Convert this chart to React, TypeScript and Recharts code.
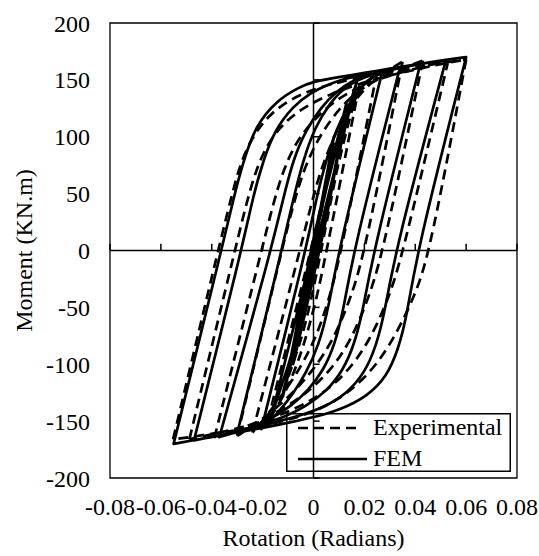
import React from "react";
import {
    LineChart,
    Line,
    XAxis,
    YAxis,
    Legend,
    ReferenceLine,
    ReferenceArea,
} from "recharts";

const FONT = '"Liberation Serif", "Times New Roman", serif';

// tick labels
const xTicks = [-0.08, -0.06, -0.04, -0.02, 0, 0.02, 0.04, 0.06, 0.08];
const yTicks = [-200, -150, -100, -50, 0, 50, 100, 150, 200];

// FEM cycles: [rotation, moment]
// each cycle = loading branch up to +peak, then unloading branch down to -peak
const femCycle1 = [[0, 0], [0.008, 100], [-0.0005, 0], [-0.008, -100]];
const femCycle2 = [
    [0.0025, 0], [0.007, 50], [0.01, 90], [0.013, 130],
    [-0.0015, 0], [-0.0055, -55], [-0.009, -95], [-0.012, -128],
];
const femCycle3 = [
    [0.002, 0], [0.006, 45], [0.0095, 85], [0.013, 118], [0.0155, 138], [0.017, 148],
    [0.0003, 0], [-0.004, -50], [-0.008, -88], [-0.012, -115], [-0.015, -135], [-0.017, -150],
];
const femCycle4 = [
    [-0.0003, 0], [0.004, 45], [0.008, 82], [0.012, 110], [0.016, 132], [0.0195, 146], [0.023, 153], [0.027, 157],
    [0.0098, 0], [0.006, -50], [0.002, -84], [-0.003, -108], [-0.008, -126], [-0.013, -140], [-0.017, -150], [-0.0205, -157],
];
const femCycle5 = [
    [-0.003, 0], [0.001, 45], [0.005, 80], [0.009, 107], [0.014, 129], [0.0185, 144], [0.0235, 154], [0.034, 161],
    [0.0157, 0], [0.012, -50], [0.0085, -82], [0.004, -105], [-0.002, -123], [-0.009, -137], [-0.016, -147], [-0.023, -155], [-0.03, -161],
];
const femCycle6 = [
    [-0.0125, 0], [-0.008, 45], [-0.004, 80], [0.0005, 108], [0.0065, 130], [0.0125, 144], [0.0195, 152.5], [0.03, 159], [0.042, 164],
    [0.0236, 0], [0.0197, -50], [0.0162, -82], [0.0115, -106], [0.005, -124], [-0.003, -137], [-0.011, -146], [-0.019, -152], [-0.028, -158], [-0.037, -164],
];
const femCycle7 = [
    [-0.0167, 0], [-0.012, 45], [-0.008, 80], [-0.003, 106], [0.003, 126], [0.009, 140], [0.015, 149], [0.0205, 153.5], [0.03, 159], [0.04, 163.5], [0.052, 167],
    [0.0321, 0], [0.028, -55], [0.0245, -85], [0.02, -108], [0.013, -126], [0.004, -138], [-0.005, -145], [-0.015, -151], [-0.025, -156.5], [-0.035, -161.5], [-0.047, -167],
];
const femCycle8 = [
    [-0.0283, 0], [-0.0235, 50], [-0.02, 77], [-0.0155, 105], [-0.008, 127], [-0.001, 139], [0.006, 146], [0.012, 151], [0.0195, 154.5], [0.03, 159.5], [0.04, 163.5], [0.05, 167], [0.06, 170],
    [0.0407, 0], [0.0367, -58], [0.0333, -87], [0.0288, -111], [0.021, -128.5], [0.0104, -140], [0.0013, -146], [-0.01, -151.5], [-0.02, -156], [-0.03, -160], [-0.04, -164], [-0.048, -167], [-0.055, -170],
    [-0.0362, 0], [-0.031, 50], [-0.0277, 77], [-0.023, 109], [-0.0145, 132], [-0.0053, 144], [0, 148.5], [0.01, 152.5], [0.02, 156], [0.03, 160], [0.04, 163.5], [0.05, 167], [0.06, 170],
];

// Experimental cycles
const expCycle1 = [[0, 0], [0.004, 48], [0.008, 95], [0.004, 45], [0, -2], [-0.004, -50], [-0.008, -95]];
const expCycle2 = [
    [0.002, 0], [0.006, 45], [0.01, 85], [0.0145, 131],
    [0.003, 0], [-0.001, -45], [-0.005, -80], [-0.009, -105], [-0.012, -125],
];
const expCycle3 = [
    [0.002, 0], [0.006, 40], [0.01, 78], [0.014, 115], [0.018, 145],
    [0.0052, 0], [0.001, -45], [-0.004, -85], [-0.009, -115], [-0.014, -137], [-0.018, -150],
];
const expCycle4 = [
    [-0.001, 0], [0.003, 40], [0.007, 75], [0.011, 104], [0.015, 127], [0.02, 145], [0.025, 157],
    [0.011, 0], [0.006, -45], [0, -82], [-0.007, -110], [-0.014, -132], [-0.019, -147], [-0.024, -160],
];
const expCycle5 = [
    [-0.0053, 0], [-0.001, 40], [0.003, 72], [0.008, 100], [0.013, 122], [0.019, 140], [0.026, 154], [0.035, 166],
    [0.0203, 0], [0.015, -40], [0.008, -78], [0, -105], [-0.008, -125], [-0.016, -141], [-0.023, -153], [-0.03, -163],
];
const expCycle6 = [
    [-0.0125, 0], [-0.008, 40], [-0.004, 70], [0.001, 95], [0.007, 116], [0.014, 134], [0.022, 147], [0.031, 157], [0.043, 167],
    [0.0275, 0], [0.022, -40], [0.015, -78], [0.007, -105], [-0.002, -124], [-0.011, -138], [-0.02, -149], [-0.029, -157], [-0.039, -165],
];
const expCycle7 = [
    [-0.0204, 0], [-0.016, 40], [-0.012, 70], [-0.007, 95], [0, 115], [0.008, 131], [0.017, 143], [0.027, 152], [0.04, 160], [0.053, 167],
    [0.0354, 0], [0.03, -40], [0.022, -80], [0.013, -108], [0.003, -127], [-0.007, -139], [-0.017, -148], [-0.027, -155], [-0.037, -160], [-0.0488, -166],
];
const expCycle8 = [
    [-0.0309, 0], [-0.026, 45], [-0.022, 75], [-0.017, 98], [-0.01, 116], [-0.002, 128], [0.007, 138], [0.017, 146], [0.028, 153], [0.04, 159], [0.05, 164], [0.06, 168],
    [0.0459, 0], [0.04, -40], [0.0294, -87], [0.02, -113], [0.01, -131], [0, -142], [-0.01, -149], [-0.02, -154], [-0.03, -158], [-0.04, -161], [-0.048, -164], [-0.0552, -166],
    [-0.0375, 0], [-0.032, 50], [-0.0285, 78], [-0.024, 100], [-0.018, 118], [-0.01, 132], [0, 142], [0.01, 148], [0.02, 153], [0.03, 157], [0.042, 162], [0.06, 168],
];

// split the path at every load reversal (peak) with a null gap, so each
// branch is drawn as its own smooth curve and the peaks stay sharp
type Pt = { x: number | null; y: number | null };
const toBranches = (cycles: number[][][]): Pt[] => {
    const pts = cycles.flat();
    const out: Pt[] = [];
    let dir = 0;
    pts.forEach(([x, y], i) => {
        if (i > 0) {
            const [px, py] = pts[i - 1];
            const d = Math.sign(y - py);
            if (dir !== 0 && d !== 0 && d !== dir) {
                out.push({ x: null, y: null }, { x: px, y: py });
            }
            if (d !== 0) dir = d;
        }
        out.push({ x, y });
    });
    return out;
};

const femData = toBranches([femCycle1, femCycle2, femCycle3, femCycle4, femCycle5, femCycle6, femCycle7, femCycle8]);
const expData = toBranches([expCycle1, expCycle2, expCycle3, expCycle4, expCycle5, expCycle6, expCycle7, expCycle8]);

const tickStyle = { fontSize: 24, fill: "#000", fontFamily: FONT };

function XTitle({ viewBox }: any) {
    return (
        <text
            x={viewBox.x + viewBox.width / 2}
            y={viewBox.y + viewBox.height - 10}
            textAnchor="middle"
            fontSize={24}
            fontFamily={FONT}
            fill="#000"
        >
            Rotation (Radians)
        </text>
    );
}

function YTitle({ viewBox }: any) {
    const cx = viewBox.x + 24;
    const cy = viewBox.y + viewBox.height / 2;
    return (
        <text
            x={cx}
            y={cy}
            transform={`rotate(-90, ${cx}, ${cy})`}
            textAnchor="middle"
            dominantBaseline="central"
            fontSize={24}
            fontFamily={FONT}
            fill="#000"
        >
            Moment (KN.m)
        </text>
    );
}

function LegendBox({ payload }: any) {
    const items = payload ?? [];
    return (
        <svg width={225} height={59} style={{ display: "block" }}>
            <rect x={0.75} y={0.75} width={223.5} height={57.5} fill="none" stroke="#000" strokeWidth={1.5} />
            {items.map((item: any, i: number) => {
                const dashed = !!item.payload?.strokeDasharray;
                const y = 15 + i * 31;
                return (
                    <g key={item.value}>
                        <line
                            x1={12}
                            x2={dashed ? 72 : 81}
                            y1={y}
                            y2={y}
                            stroke="#000"
                            strokeWidth={2.7}
                            strokeDasharray={dashed ? "10 6" : undefined}
                        />
                        <text x={87} y={y + 7} fontSize={24} fontFamily={FONT} fill="#000">
                            {item.value}
                        </text>
                    </g>
                );
            })}
        </svg>
    );
}

export default function App() {
    return (
        <div style={{ position: "absolute", left: 0, top: 0, background: "#fff" }}>
            <LineChart width={539} height={556} margin={{ top: 23, right: 22, bottom: 0, left: 0 }}>
                <XAxis
                    dataKey="x"
                    type="number"
                    domain={[-0.08, 0.08]}
                    ticks={xTicks}
                    interval={0}
                    height={78}
                    axisLine={false}
                    tickLine={false}
                    tickSize={0}
                    tickMargin={20}
                    tick={tickStyle}
                    label={{ content: XTitle }}
                />
                <YAxis
                    dataKey="y"
                    type="number"
                    domain={[-200, 200]}
                    ticks={yTicks}
                    interval={0}
                    width={110}
                    axisLine={false}
                    tickLine={false}
                    tickSize={0}
                    tickMargin={20}
                    tick={tickStyle}
                    label={{ content: YTitle }}
                />
                <ReferenceArea x1={-0.08} x2={0.08} y1={-200} y2={200} fill="none" stroke="#000" strokeWidth={1.3} />
                <ReferenceLine x={0} stroke="#000" strokeWidth={1.5} />
                <ReferenceLine y={0} stroke="#000" strokeWidth={1.5} />
                {xTicks.map((t) => (
                    <ReferenceLine
                        key={`xt${t}`}
                        segment={[{ x: t, y: 0 }, { x: t, y: 6 }]}
                        stroke="#000"
                        strokeWidth={1.5}
                    />
                ))}
                {yTicks.map((t) => (
                    <ReferenceLine
                        key={`yt${t}`}
                        segment={[{ x: 0, y: t }, { x: 0.0024, y: t }]}
                        stroke="#000"
                        strokeWidth={1.5}
                    />
                ))}
                <Line
                    data={expData}
                    dataKey="y"
                    name="Experimental"
                    type="basis"
                    stroke="#000"
                    strokeWidth={2.7}
                    strokeDasharray="10 6"
                    dot={false}
                    activeDot={false}
                    isAnimationActive={false}
                />
                <Line
                    data={femData}
                    dataKey="y"
                    name="FEM"
                    type="basis"
                    stroke="#000"
                    strokeWidth={2.7}
                    strokeLinecap="round"
                    strokeLinejoin="round"
                    dot={false}
                    activeDot={false}
                    isAnimationActive={false}
                />
                <Legend
                    layout="vertical"
                    align="center"
                    verticalAlign="middle"
                    wrapperStyle={{ left: 286, top: 413, width: 225, height: 59 }}
                    content={LegendBox}
                />
            </LineChart>
        </div>
    );
}
